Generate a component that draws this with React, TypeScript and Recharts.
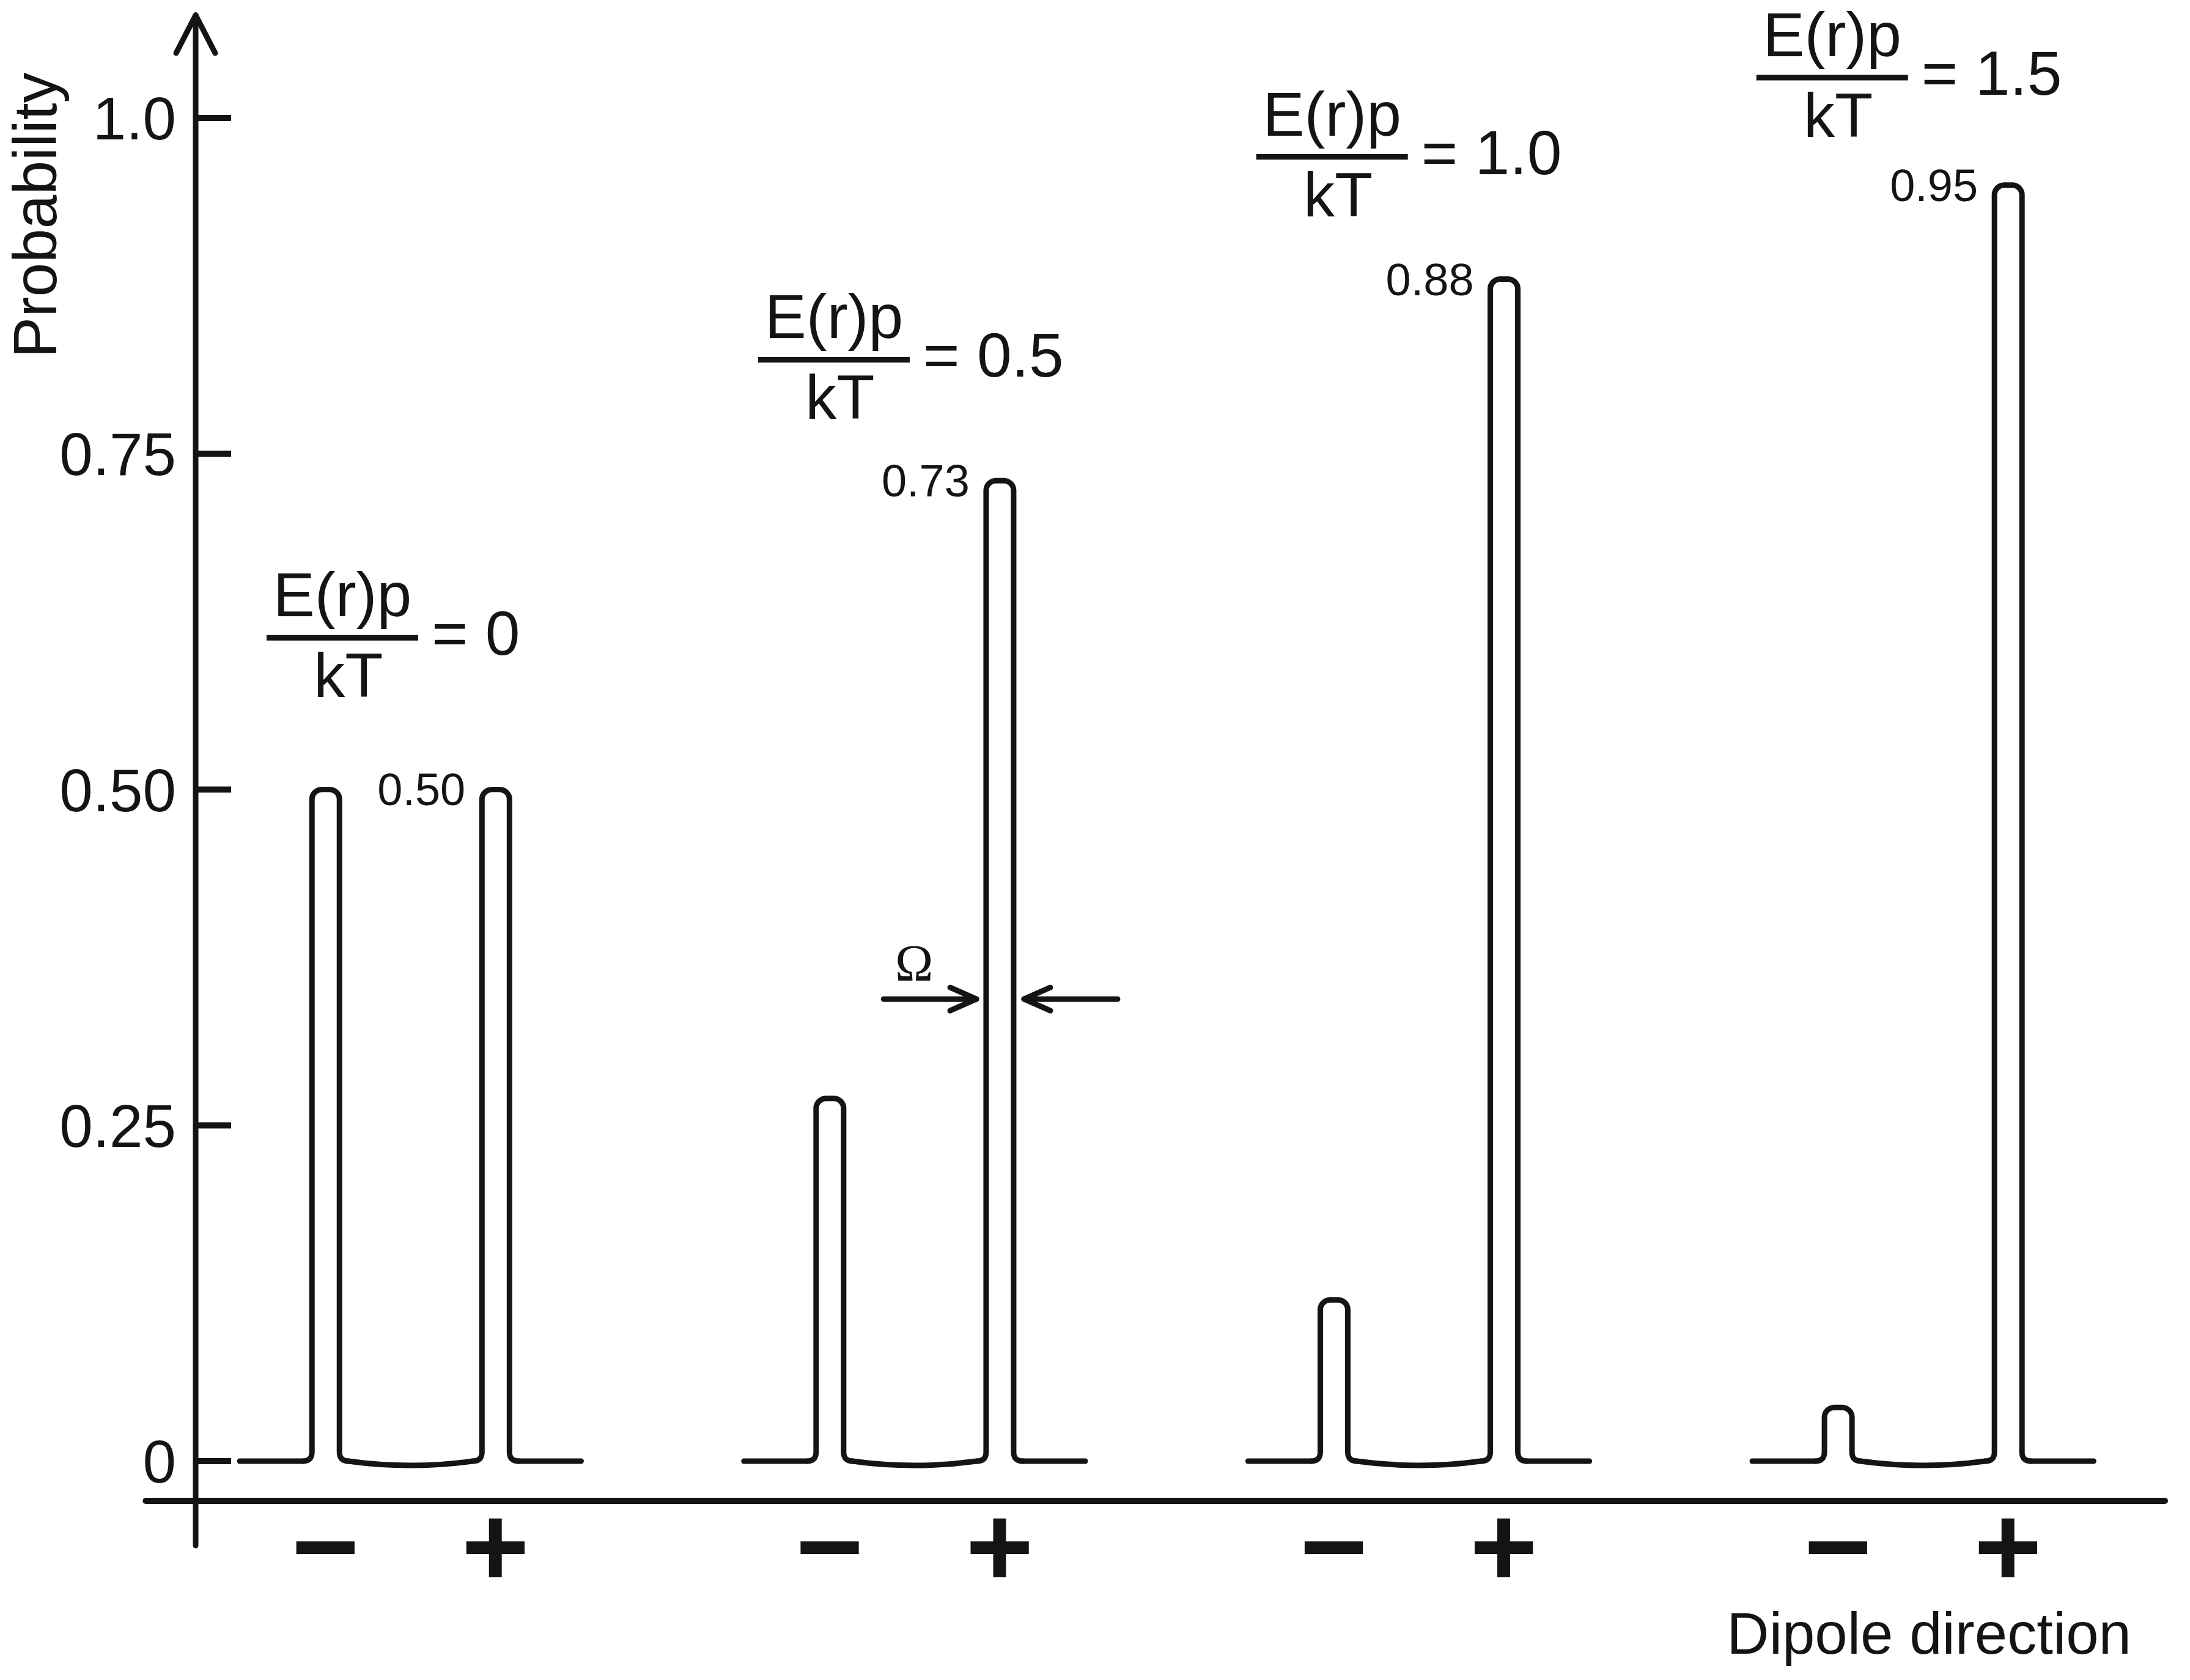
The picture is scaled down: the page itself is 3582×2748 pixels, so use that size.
import React from "react";
import {
  ComposedChart,
  Bar,
  Scatter,
  XAxis,
  YAxis,
  ReferenceLine,
  LabelList,
} from "recharts";

// E(r)p / kT for each of the four panels
const fieldRatios = ["0", "0.5", "1.0", "1.5"];
const groupCenters = [1, 2, 3, 4];
// probability of the dipole pointing against (-) and along (+) the field
const minusProb = [0.5, 0.27, 0.12, 0.04];
const plusProb = [0.5, 0.73, 0.88, 0.95];
const signLabels = ["\u2212", "+"];
const yTicks = [0, 0.25, 0.5, 0.75, 1.0];
const yTickLabels = ["0", "0.25", "0.50", "0.75", "1.0"];
// centre of each fraction bar, in chart units
const fractionX = [0.865, 1.84, 2.828, 3.82];
const fractionY = [0.613, 0.82, 0.971, 1.03];

const W = 3582;
const H = 2748;
const INK = "#141414";
const FONT = "'Liberation Sans', Arial, sans-serif";

const X_MIN = 0.574;
const X_MAX = 4.48;
const Y_MIN = -0.0628;
const Y_MAX = 1.0878;
const PX_PER_UNIT = 824.6;
const SIGN_OFFSET = 0.1686;
const BASE_HALF = 0.3385;
const PULSE_W = 45;
const FOOT = 15;
const CAP = 16;
const LINE = 9;
const FOOT_REACH = (PULSE_W / 2 + FOOT) / PX_PER_UNIT;
const X_AXIS_START = 0.475;
const X_AXIS_Y = -0.0296;
const ARROW_TOP = 1.0765;
const OMEGA_Y = 0.344;

const pulses = groupCenters.flatMap((g, i) => [
  { x: g - SIGN_OFFSET, p: minusProb[i] },
  { x: g + SIGN_OFFSET, p: plusProb[i], label: plusProb[i].toFixed(2) },
]);

const signTicks = pulses.map((d) => d.x);

const baselines = groupCenters.flatMap((g) => {
  const m = g - SIGN_OFFSET;
  const p = g + SIGN_OFFSET;
  return [
    { from: g - BASE_HALF, to: m - FOOT_REACH, sag: 0 },
    { from: m + FOOT_REACH, to: p - FOOT_REACH, sag: 14 },
    { from: p + FOOT_REACH, to: g + BASE_HALF, sag: 0 },
  ];
});

const fractions = fractionX.map((x, i) => ({ x, y: fractionY[i], ratio: fieldRatios[i] }));

// the Omega width marker sits on the + peak of the second panel
const omegaAt = groupCenters[1] + SIGN_OFFSET;

function PulseShape(props: any) {
  const { x, y, width, height } = props;
  if (x == null || y == null || !height) return null;
  const top = Math.min(y, y + height);
  const base = Math.max(y, y + height);
  const l = x;
  const r = x + width;
  const c = Math.min(CAP, width / 2);
  const d =
    `M${l - FOOT},${base} Q${l},${base} ${l},${base - FOOT} ` +
    `L${l},${top + c} A${c},${c} 0 0 1 ${l + c},${top} ` +
    `L${r - c},${top} A${c},${c} 0 0 1 ${r},${top + c} ` +
    `L${r},${base - FOOT} Q${r},${base} ${r + FOOT},${base}`;
  return <path d={d} fill="none" stroke={INK} strokeWidth={LINE} strokeLinejoin="round" strokeLinecap="round" />;
}

function ValueLabel(props: any) {
  const { x, y, value } = props;
  if (value == null || x == null) return null;
  return (
    <text x={x - 27} y={y + 26} textAnchor="end" fontSize={74} fontFamily={FONT} fill={INK}>
      {value}
    </text>
  );
}

function FractionShape(props: any) {
  const { cx, cy, payload } = props;
  if (cx == null || cy == null) return null;
  return (
    <g fontFamily={FONT} fill={INK} fontSize={102}>
      <text x={cx} y={cy - 35} textAnchor="middle">E(r)p</text>
      <line x1={cx - 124} y1={cy} x2={cx + 124} y2={cy} stroke={INK} strokeWidth={LINE} />
      <text x={cx + 10} y={cy + 97} textAnchor="middle">kT</text>
      <text x={cx + 146} y={cy + 28}>= {payload.ratio}</text>
    </g>
  );
}

function YAxisArrow(props: any) {
  const { x1, y1, x2, y2 } = props;
  const top = Math.min(y1, y2);
  const bottom = Math.max(y1, y2);
  return (
    <g stroke={INK} strokeWidth={LINE} fill="none" strokeLinecap="round" strokeLinejoin="round">
      <line x1={x1} y1={bottom} x2={x2} y2={top} />
      <path d={`M${x2 - 32},${top + 62} L${x2},${top} L${x2 + 32},${top + 62}`} />
    </g>
  );
}

function PlainLine(props: any) {
  const { x1, y1, x2, y2 } = props;
  return <line x1={x1} y1={y1} x2={x2} y2={y2} stroke={INK} strokeWidth={10} strokeLinecap="round" />;
}

function BaselineShape(props: any) {
  const { x1, y1, x2, y2, sag } = props;
  const d = `M${x1},${y1} Q${(x1 + x2) / 2},${y1 + sag} ${x2},${y2}`;
  return <path d={d} fill="none" stroke={INK} strokeWidth={LINE} strokeLinecap="round" />;
}

function OmegaArrow(props: any) {
  const { x1, y1, x2, y2, omega } = props;
  const dir = x2 > x1 ? 1 : -1;
  return (
    <g>
      <g stroke={INK} strokeWidth={LINE} fill="none" strokeLinecap="round" strokeLinejoin="round">
        <line x1={x1} y1={y1} x2={x2} y2={y2} />
        <path d={`M${x2 - dir * 43},${y2 - 19} L${x2},${y2} L${x2 - dir * 43},${y2 + 19}`} />
      </g>
      {omega ? (
        <text
          x={(x1 + x2) / 2 - 26}
          y={y1 - 30}
          textAnchor="middle"
          fontSize={84}
          fontFamily="'Liberation Serif', 'Times New Roman', serif"
          fill={INK}
        >
          Ω
        </text>
      ) : null}
    </g>
  );
}

function YTick(props: any) {
  const { x, y, payload } = props;
  const label = yTickLabels[yTicks.indexOf(payload.value)];
  return (
    <g>
      <text x={x - 32} y={y} dy="0.36em" textAnchor="end" fontSize={98} fontFamily={FONT} fill={INK}>
        {label}
      </text>
      <line x1={x} y1={y} x2={x + 58} y2={y} stroke={INK} strokeWidth={10} />
    </g>
  );
}

function SignTick(props: any) {
  const { x, y, index } = props;
  return (
    <text x={x} y={y + 67} textAnchor="middle" fontSize={190} fontWeight="bold" fontFamily={FONT} fill={INK}>
      {signLabels[index % 2]}
    </text>
  );
}

function YLabel(props: any) {
  const vb = props.viewBox || { x: 0, y: 0 };
  const px = vb.x + 92;
  const py = vb.y + 352;
  return (
    <text x={px} y={py} textAnchor="middle" transform={`rotate(-90, ${px}, ${py})`} fontSize={100} fontFamily={FONT} fill={INK}>
      Probability
    </text>
  );
}

function XLabel(props: any) {
  const vb = props.viewBox || { x: 320, y: 2528, width: 3225 };
  return (
    <text x={vb.x + vb.width - 55} y={vb.y + 177} textAnchor="end" fontSize={96} fontFamily={FONT} fill={INK}>
      Dipole direction
    </text>
  );
}

export default function App() {
  return (
    <div style={{ width: W, height: H, background: "#fff" }}>
      <style>{"body{margin:0}"}</style>
      <ComposedChart width={W} height={H} data={pulses} margin={{ top: 0, right: 41, bottom: 0, left: 0 }}>
        <XAxis
          dataKey="x"
          type="number"
          domain={[X_MIN, X_MAX]}
          allowDataOverflow
          ticks={signTicks}
          interval={0}
          axisLine={false}
          tickLine={false}
          tickSize={0}
          tickMargin={0}
          height={220}
          tick={(p: any) => <SignTick {...p} />}
          label={(p: any) => <XLabel {...p} />}
        />
        <XAxis xAxisId="annot" dataKey="x" type="number" domain={[X_MIN, X_MAX]} allowDataOverflow hide />
        <YAxis
          type="number"
          domain={[Y_MIN, Y_MAX]}
          allowDataOverflow
          ticks={yTicks}
          interval={0}
          width={320}
          axisLine={false}
          tickLine={false}
          tickSize={0}
          tickMargin={0}
          tick={(p: any) => <YTick {...p} />}
          label={(p: any) => <YLabel {...p} />}
        />

        <ReferenceLine
          segment={[{ x: X_AXIS_START, y: X_AXIS_Y }, { x: X_MAX, y: X_AXIS_Y }]}
          ifOverflow="visible"
          shape={(p: any) => <PlainLine {...p} />}
        />
        <ReferenceLine
          segment={[{ x: X_MIN, y: Y_MIN }, { x: X_MIN, y: ARROW_TOP }]}
          ifOverflow="visible"
          shape={(p: any) => <YAxisArrow {...p} />}
        />
        {baselines.map((b, i) => (
          <ReferenceLine
            key={`base-${i}`}
            segment={[{ x: b.from, y: 0 }, { x: b.to, y: 0 }]}
            ifOverflow="visible"
            shape={(p: any) => <BaselineShape {...p} sag={b.sag} />}
          />
        ))}
        <ReferenceLine
          segment={[{ x: omegaAt - 0.23, y: OMEGA_Y }, { x: omegaAt - 0.046, y: OMEGA_Y }]}
          ifOverflow="visible"
          shape={(p: any) => <OmegaArrow {...p} omega />}
        />
        <ReferenceLine
          segment={[{ x: omegaAt + 0.234, y: OMEGA_Y }, { x: omegaAt + 0.0485, y: OMEGA_Y }]}
          ifOverflow="visible"
          shape={(p: any) => <OmegaArrow {...p} />}
        />

        <Bar
          dataKey="p"
          barSize={PULSE_W}
          fill="none"
          isAnimationActive={false}
          shape={(p: any) => <PulseShape {...p} />}
        >
          <LabelList dataKey="label" content={(p: any) => <ValueLabel {...p} />} />
        </Bar>
        <Scatter
          xAxisId="annot"
          data={fractions}
          dataKey="y"
          isAnimationActive={false}
          shape={(p: any) => <FractionShape {...p} />}
        />
      </ComposedChart>
    </div>
  );
}
